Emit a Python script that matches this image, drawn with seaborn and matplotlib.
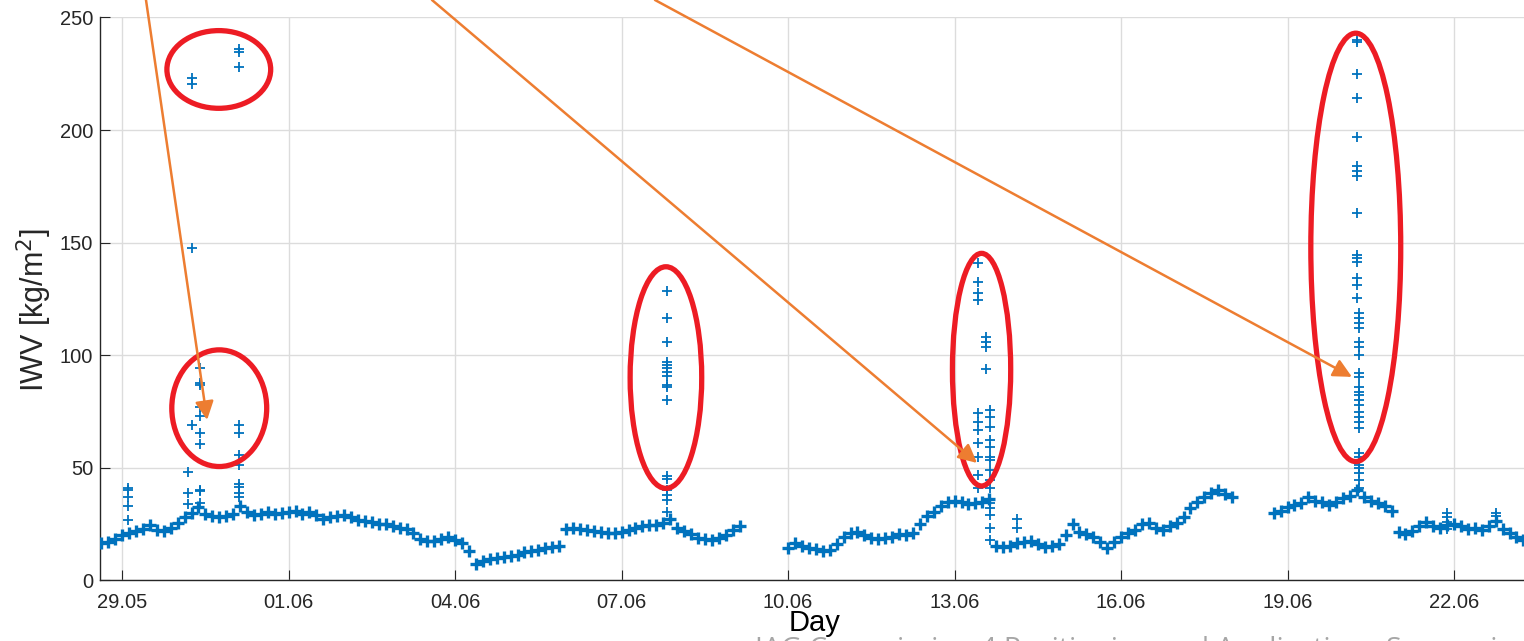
import pandas as pd
import matplotlib.pyplot as plt
import matplotlib.dates as mdates
from matplotlib.patches import Ellipse
import seaborn as sns

plt.rcParams['font.family'] = ['Liberation Sans', 'DejaVu Sans']

# IWV series, 3-hourly values per segment (gaps between segments)
seg_a_start = '2017-05-28 15:00'
seg_a_iwv = [16.5, 17, 18.5,
             20, 21, 22, 23, 24.5, 22.5, 22, 23.5,
             25.5, 28, 30, 32.5, 29.5, 28.5, 28, 28.5,
             29.5, 33, 30.5, 29, 29.5, 30.5, 29.5, 30,
             30.5, 31, 29.5, 30.5, 29, 27.5, 28, 28.5,
             29, 28, 27, 26.5, 26, 25, 25, 24,
             23.5, 23, 21, 18.5, 17.5, 17.5, 18.5, 19.5,
             18, 16.5, 13, 7.5, 8.5, 9.5, 10, 10.5,
             11, 11.5, 12.5, 13, 13.5, 14.5, 15, 15.5]

seg_b_start = '2017-06-06 00:00'
seg_b_iwv = [23, 23.5, 23, 22.5, 22, 21.5, 21, 21,
             21.5, 22.5, 23.5, 24, 24.5, 24.5, 25.5, 27.5,
             23.5, 22, 20.5, 19, 18.5, 18, 19, 20,
             22.5, 24]

seg_c_start = '2017-06-10 00:00'
seg_c_iwv = [14.5, 16.5, 15.5, 14.5, 14, 13, 13.5, 16,
             19.5, 21, 21.5, 20, 19, 18.5, 19, 19.5,
             20.5, 20, 21, 25, 28.5, 30.5, 33, 35,
             35.5, 35, 34, 34.5, 35, 36, 15.5, 15,
             15.5, 16.5, 17, 17.5, 16, 15, 15.5, 16,
             20, 25, 21.5, 20.5, 19.5, 17, 14.5, 17,
             19.5, 21, 22.5, 25, 25.5, 23.5, 22.5, 24,
             25.5, 28, 32, 35, 37, 39, 40, 38.5,
             37]

seg_d_start = '2017-06-18 18:00'
seg_d_iwv = [30, 31, 32.5, 33.5, 34.5, 37,
             35.5, 35, 33.5, 35, 36.5, 37.5, 40, 37,
             35.5, 34.5, 33, 31, 21.5, 20.5, 22, 24,
             26, 24, 23.5, 24.5, 25, 24, 23, 23.5,
             22.5, 24, 26.5, 23, 21, 19.5, 18, 17]

# outliers / spikes
spike_times = (['2017-05-29 02:30'] * 5 + ['2017-05-30 04:30'] * 3 +
               ['2017-05-30 06:00'] * 4 + ['2017-05-30 09:45'] * 10 +
               ['2017-05-31 02:30'] * 11 +
               ['2017-06-07 19:30'] * 17 +
               ['2017-06-13 10:15'] * 11 + ['2017-06-13 13:45'] * 4 +
               ['2017-06-13 15:15'] * 15 +
               ['2017-06-14 03:00'] * 2 +
               ['2017-06-20 06:00'] * 15 + ['2017-06-20 07:00'] * 25 +
               ['2017-06-21 21:00'] * 5 + ['2017-06-22 18:00'] * 2)
spike_iwv = [41, 40, 37, 33, 27,
             48.3, 38.9, 34,
             223, 220.5, 147.8, 69,
             94.5, 87.7, 86.7, 76.9, 73, 65.4, 60.5, 40.4, 39.6, 34.4,
             235.9, 234.8, 227.9, 69, 65.4, 55.7, 51.3, 43, 41.5, 39, 37,
             128.7, 116.4, 106, 97.2, 95.7, 94.2, 92.7, 90.8, 86.8, 85.8,
             80.2, 46.4, 44.9, 40.2, 38, 35.7, 30.6,
             141.1, 132.7, 127.5, 124.6, 74.2, 70.5, 66.8, 60.9, 55, 46.8, 40.9,
             108.3, 106, 103.8, 93.8,
             75.7, 72.7, 68.3, 62.4, 59.4, 55, 53.5, 49.1, 44.6, 40.9,
             34.3, 32, 29, 23.2, 18,
             27.5, 23.5,
             240, 239.3, 224.9, 214.1, 197.1, 184.2, 182, 179.8, 163.1,
             144.5, 143.1, 141.6, 134.2, 131.2, 125.6,
             118.7, 116.4, 114.2, 112, 106, 103.8, 100.1, 92, 90.5, 86.1,
             83.8, 82.4, 80.2, 77.9, 75, 72.7, 70.5, 67.6, 56.5, 55, 51.3,
             49.8, 47.6, 44.6, 40.9,
             30, 28, 26, 24.5, 23,
             30, 28.5]

tick_dates = pd.date_range('2017-05-29', periods=9, freq='3D')

# circled spike groups: centre time, centre IWV, width (days), height
circle_centres = ['2017-05-30 17:48', '2017-05-30 18:00', '2017-06-07 19:10',
                  '2017-06-13 11:40', '2017-06-20 05:30']
circle_iwv = [226.9, 76.5, 90.1, 93.6, 147.9]
circle_w = [1.87, 1.71, 1.29, 1.05, 1.62]
circle_h = [34.5, 51.8, 98.4, 103.3, 190.2]

# arrow tips
arrow_tips = ['2017-05-30 12:45', '2017-06-13 09:43', '2017-06-20 03:50']
arrow_iwv = [71.3, 52.2, 90.4]
arrow_starts_px = [(146, 641), (432, 641), (655, 641)]

frames = []
for start, vals in [(seg_a_start, seg_a_iwv), (seg_b_start, seg_b_iwv),
                    (seg_c_start, seg_c_iwv), (seg_d_start, seg_d_iwv)]:
    frames.append(pd.DataFrame({'time': pd.date_range(start, periods=len(vals), freq='3h'),
                                'iwv': vals}))
base = pd.concat(frames, ignore_index=True)
spikes = pd.DataFrame({'time': pd.to_datetime(spike_times), 'iwv': spike_iwv})

blue = '#0072BD'
dark = '#262626'

fig = plt.figure(figsize=(15.24, 6.41), dpi=100)
ax = fig.add_axes([0.0656, 0.0944, 0.9344, 0.8784])

sns.scatterplot(data=base, x='time', y='iwv', marker='+', s=85, color=blue,
                linewidth=2.4, ax=ax, zorder=3)
sns.scatterplot(data=spikes, x='time', y='iwv', marker='+', s=55, color=blue,
                linewidth=1.3, ax=ax, zorder=3)

ax.set_xlim(pd.Timestamp('2017-05-28 14:25'), pd.Timestamp('2017-06-23 06:15'))
ax.set_ylim(0, 250)
ax.set_yticks([0, 50, 100, 150, 200, 250])
ax.set_xticks(tick_dates)
ax.xaxis.set_major_formatter(mdates.DateFormatter('%d.%m'))

ax.grid(True, color='#dcdcdc', linewidth=1.0)
ax.set_axisbelow(True)
for side in ['top', 'right']:
    ax.spines[side].set_visible(False)
for side in ['left', 'bottom']:
    ax.spines[side].set_color(dark)
    ax.spines[side].set_linewidth(1.0)
ax.tick_params(direction='in', length=7, color=dark, labelcolor=dark,
               labelsize=14.5)
ax.tick_params(axis='x', pad=9)
ax.tick_params(axis='y', pad=5)

ax.set_xlabel('Day', fontsize=21, color='black')
ax.xaxis.set_label_coords(0.502, -0.051)
ax.set_ylabel('IWV [kg/m$^2$]', fontsize=22, color=dark)
ax.yaxis.set_label_coords(-0.032, 0.48)

for c, v, w, h in zip(circle_centres, circle_iwv, circle_w, circle_h):
    ax.add_patch(Ellipse((mdates.date2num(pd.Timestamp(c)), v), w, h,
                         fill=False, edgecolor='#ED1C24', linewidth=3.8, zorder=4))

for tip, v, start in zip(arrow_tips, arrow_iwv, arrow_starts_px):
    ax.annotate('', xy=(mdates.date2num(pd.Timestamp(tip)), v), xycoords='data',
                xytext=start, textcoords='figure pixels',
                arrowprops=dict(arrowstyle='-|>', color='#ED7D31', lw=1.8,
                                mutation_scale=28, shrinkA=0, shrinkB=0),
                annotation_clip=False, zorder=5)

fig.text(755 / 1524, 0.008, 'IAG Commission 4 Positioning and Applications Symposium',
         fontsize=20.5, color='#a6a6a6', va='top', ha='left',
         family=['Open Sans', 'DejaVu Sans'])

fig.savefig('out.png', dpi=100)
